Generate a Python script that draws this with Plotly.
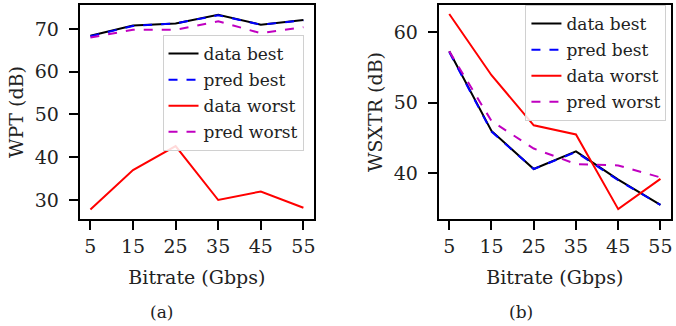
import plotly.graph_objects as go

bitrate = [5, 15, 25, 35, 45, 55]
tick_labels = ["5", "15", "25", "35", "45", "55"]

# (a) WPT (dB)
wpt_data_best = [68.4, 70.8, 71.3, 73.3, 71.0, 72.1]
wpt_pred_best = [68.3, 70.7, 71.3, 73.2, 71.0, 72.0]
wpt_data_worst = [27.8, 37.0, 42.6, 30.0, 32.0, 28.2]
wpt_pred_worst = [68.0, 69.8, 69.8, 71.8, 69.0, 70.4]

# (b) WSXTR (dB)
wsx_data_best = [57.3, 46.0, 40.6, 43.1, 39.1, 35.5]
wsx_pred_best = [57.2, 45.9, 40.6, 43.0, 39.0, 35.5]
wsx_data_worst = [62.6, 53.9, 46.8, 45.5, 34.9, 39.2]
wsx_pred_worst = [57.3, 47.4, 43.5, 41.3, 41.1, 39.4]

names = ["data best", "pred best", "data worst", "pred worst"]
colors = ["black", "blue", "red", "#c000c0"]
dashes = ["solid", "dash", "solid", "dash"]

FONT = "DejaVu Serif"
FS = 19
LFS = 17

fig = go.Figure()

sets = [
    (wpt_data_best, wpt_pred_best, wpt_data_worst, wpt_pred_worst),
    (wsx_data_best, wsx_pred_best, wsx_data_worst, wsx_pred_worst),
]
for k, series in enumerate(sets):
    xa = "x" if k == 0 else "x2"
    ya = "y" if k == 0 else "y2"
    lg = "legend" if k == 0 else "legend2"
    for i, (name, vals, c, d) in enumerate(zip(names, series, colors, dashes)):
        fig.add_trace(go.Scatter(
            x=bitrate, y=vals, name=name, mode="lines",
            line=dict(color=c, width=2, dash=d),
            xaxis=xa, yaxis=ya, legend=lg, legendgroup=f"{k}-{i}",
        ))

W, H = 676, 326
def px_x(p):
    return p / W
def px_y(p):
    return 1 - p / H

axis_common = dict(
    showline=True, linecolor="black", linewidth=2, mirror=True,
    ticks="outside", ticklen=9, tickwidth=1.5, tickcolor="black",
    showgrid=False, zeroline=False, ticklabeloverflow="allow",
    tickfont=dict(family=FONT, size=FS, color="#222"),
)
xcommon = dict(axis_common, ticklabelstandoff=0, range=[2.5, 57.5],
               tickvals=bitrate, ticktext=tick_labels,
               title=dict(text="Bitrate (Gbps)", standoff=15,
                          font=dict(family=FONT, size=FS)))
ycommon = dict(axis_common, ticklabelstandoff=6)

legend_common = dict(
    xanchor="left", yanchor="top",
    bgcolor="rgba(255,255,255,0.85)", bordercolor="#d0d0d0",
    borderwidth=1, font=dict(family=FONT, size=LFS),
    tracegroupgap=1, itemwidth=30,
)

fig.update_layout(
    width=W, height=H,
    margin=dict(l=0, r=0, t=0, b=0),
    paper_bgcolor="white", plot_bgcolor="white",
    font=dict(family=FONT, size=FS, color="#222"),
    xaxis=dict(domain=[px_x(80), px_x(315)], anchor="y", **xcommon),
    yaxis=dict(domain=[px_y(219), px_y(5)], range=[25.56, 75.6],
               tickvals=[30, 40, 50, 60, 70], anchor="x",
               title=dict(text="WPT (dB)", standoff=6,
                          font=dict(family=FONT, size=FS)), **ycommon),
    xaxis2=dict(domain=[px_x(440), px_x(673)], anchor="y2", **xcommon),
    yaxis2=dict(domain=[px_y(219), px_y(5)], range=[33.5, 63.87],
                tickvals=[40, 50, 60], anchor="x2",
                title=dict(text="WSXTR (dB)", standoff=6,
                           font=dict(family=FONT, size=FS)), **ycommon),
    legend=dict(x=px_x(163), y=px_y(35), **legend_common),
    legend2=dict(x=px_x(527), y=px_y(5), **legend_common),
    annotations=[
        dict(text="(a)", x=px_x(162), y=px_y(312), xref="paper", yref="paper",
             xanchor="center", yanchor="middle",
             showarrow=False, font=dict(family=FONT, size=FS - 2)),
        dict(text="(b)", x=px_x(523), y=px_y(312), xref="paper", yref="paper",
             xanchor="center", yanchor="middle",
             showarrow=False, font=dict(family=FONT, size=FS - 2)),
    ],
)

fig.write_html("out.html")
